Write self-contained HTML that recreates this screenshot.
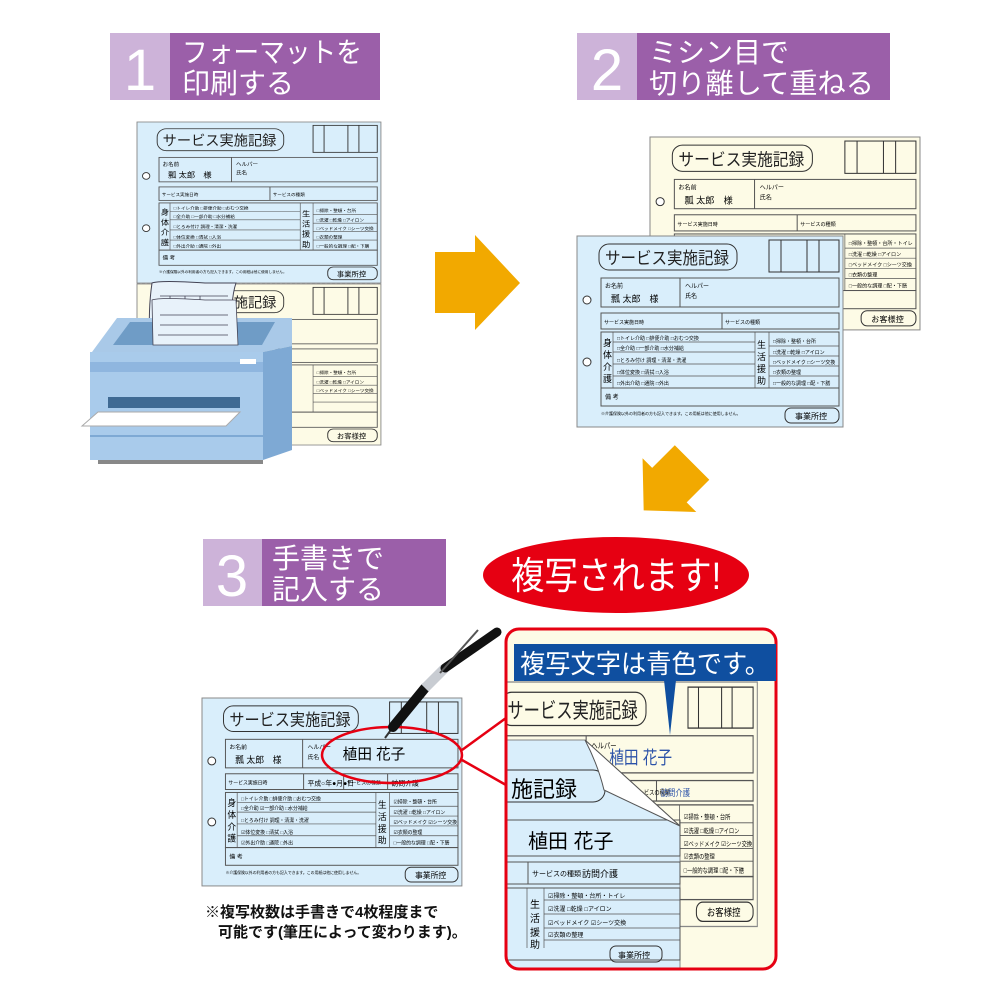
<!DOCTYPE html>
<html><head><meta charset="utf-8"><style>
html,body{margin:0;padding:0;background:#fff}
svg{display:block}
text{font-family:"Liberation Sans","Noto Sans CJK JP",sans-serif}
</style></head><body>
<svg width="1000" height="1000" viewBox="0 0 1000 1000" xmlns="http://www.w3.org/2000/svg">
<defs>
<clipPath id="zc"><rect x="506" y="629" width="270" height="340" rx="13"/></clipPath>
</defs>

<!-- Step labels -->
<rect x="110" y="33" width="60" height="67" fill="#cdb3d9"/>
<rect x="170" y="33" width="210" height="67" fill="#9b5fa9"/>
<text x="140" y="90" font-size="58" fill="#fff" text-anchor="middle">1</text>
<text x="182" y="62" font-size="28" fill="#fff" textLength="180" lengthAdjust="spacingAndGlyphs">フォーマットを</text>
<text x="182" y="93" font-size="28" fill="#fff">印刷する</text>

<rect x="577" y="33" width="60" height="67" fill="#cdb3d9"/>
<rect x="637" y="33" width="253" height="67" fill="#9b5fa9"/>
<text x="607" y="90" font-size="58" fill="#fff" text-anchor="middle">2</text>
<text x="649" y="62" font-size="28" fill="#fff">ミシン目で</text>
<text x="649" y="93" font-size="28" fill="#fff" textLength="225" lengthAdjust="spacingAndGlyphs">切り離して重ねる</text>

<rect x="203" y="539" width="59" height="67" fill="#cdb3d9"/>
<rect x="262" y="539" width="184" height="67" fill="#9b5fa9"/>
<text x="232" y="596" font-size="58" fill="#fff" text-anchor="middle">3</text>
<text x="272" y="568" font-size="28" fill="#fff">手書きで</text>
<text x="272" y="599" font-size="28" fill="#fff">記入する</text>

<!-- Arrows -->
<polygon points="435,252 475,252 475,235 520,283 475,330 475,313 435,313" fill="#f2a900"/>
<polygon transform="translate(668,486) rotate(135) scale(0.8)" points="-42,-31 -2,-31 -2,-48 43,0 -2,47 -2,30 -42,30" fill="#f2a900"/>

<!-- ===== Step1 form stack ===== -->
<g transform="translate(137,122) scale(0.917,0.843)">
<rect width="266" height="191" fill="#d9eefb" stroke="#888"/>
<rect x="22" y="8" width="138" height="26" rx="10" fill="none" stroke="#333"/>
<text x="28" y="28" font-size="17" fill="#222" textLength="124" lengthAdjust="spacingAndGlyphs">サービス実施記録</text>
<rect x="192" y="4" width="70" height="32" fill="none" stroke="#333"/>
<path d="M204 4V36M230 4V36M242 4V36" stroke="#333"/>
<circle cx="10" cy="64" r="4" fill="#fff" stroke="#333"/><circle cx="10" cy="126" r="4" fill="#fff" stroke="#333"/>
<rect x="24" y="42" width="238" height="29" fill="none" stroke="#555"/><path d="M103 42V71" stroke="#555"/>
<text x="28" y="52" font-size="6">お名前</text><text x="34" y="66" font-size="9">瓢 太郎　様</text>
<text x="108" y="52" font-size="6">ヘルパー</text><text x="108" y="62" font-size="6">氏名</text>
<rect x="24" y="77" width="238" height="16" fill="none" stroke="#555"/><path d="M145 77V93" stroke="#555"/>
<text x="27" y="88" font-size="5">サービス実施日時</text><text x="148" y="88" font-size="5">サービスの種類</text>
<rect x="24" y="96" width="238" height="56" fill="none" stroke="#555"/>
<path d="M36 96V152M178 96V152M192 96V152M36 106H178M36 116H178M36 128H178M36 140H178M192 110H262M192 120H262M192 130H262M192 140H262" stroke="#555" stroke-width=".7"/>
<text x="26" y="110" font-size="9">身</text><text x="26" y="122" font-size="9">体</text><text x="26" y="134" font-size="9">介</text><text x="26" y="146" font-size="9">護</text>
<text x="180" y="112" font-size="9">生</text><text x="180" y="124" font-size="9">活</text><text x="180" y="136" font-size="9">援</text><text x="180" y="148" font-size="9">助</text>
<text x="40" y="104" font-size="5">□トイレ介助 □排便介助 □おむつ交換</text>
<text x="40" y="114" font-size="5">□全介助 □一部介助 □水分補給</text>
<text x="40" y="126" font-size="5">□とろみ付け 調理・清潔・洗濯</text>
<text x="40" y="138" font-size="5">□体位変換 □清拭 □入浴</text>
<text x="40" y="149" font-size="5">□外出介助 □通院 □外出</text>
<text x="196" y="107" font-size="5">□掃除・整頓・台所</text>
<text x="196" y="118" font-size="5">□洗濯 □乾燥 □アイロン</text>
<text x="196" y="128" font-size="5">□ベッドメイク □シーツ交換</text>
<text x="196" y="138" font-size="5">□衣類の整理</text>
<text x="196" y="149" font-size="5">□一般的な調理 □配・下膳</text>
<rect x="24" y="152" width="238" height="18" fill="none" stroke="#555"/><text x="28" y="163" font-size="6">備 考</text>
<text x="24" y="179" font-size="4">※介護保険以外の利用者の方も記入できます。この用紙は他に使用しません。</text>
<rect x="208" y="172" width="54" height="15" rx="6" fill="none" stroke="#333"/><text x="218" y="183" font-size="8">事業所控</text>
</g>
<line x1="137" y1="284" x2="381" y2="284" stroke="#777" stroke-dasharray="3,2"/>
<g transform="translate(137,284) scale(0.917,0.843)">
<rect width="266" height="191" fill="#fdfbe6" stroke="#888"/>
<rect x="22" y="8" width="138" height="26" rx="10" fill="none" stroke="#333"/>
<text x="28" y="28" font-size="17" fill="#222" textLength="124" lengthAdjust="spacingAndGlyphs">サービス実施記録</text>
<rect x="192" y="4" width="70" height="32" fill="none" stroke="#333"/>
<path d="M204 4V36M230 4V36M242 4V36" stroke="#333"/>
<rect x="24" y="42" width="238" height="29" fill="none" stroke="#555"/>
<rect x="24" y="77" width="238" height="16" fill="none" stroke="#555"/>
<rect x="24" y="96" width="238" height="56" fill="none" stroke="#555"/>
<path d="M192 96V152M192 110H262M192 120H262M192 130H262M192 140H262" stroke="#555" stroke-width=".7"/>
<text x="196" y="107" font-size="5">□掃除・整頓・台所</text>
<text x="196" y="118" font-size="5">□洗濯 □乾燥 □アイロン</text>
<text x="196" y="128" font-size="5">□ベッドメイク □シーツ交換</text>
<rect x="24" y="152" width="238" height="18" fill="none" stroke="#555"/>
<rect x="208" y="172" width="54" height="15" rx="6" fill="none" stroke="#333"/><text x="218" y="183" font-size="8">お客様控</text>
</g>

<!-- Printer -->
<path d="M152 283 Q160 280 205 283 L236 283 Q230 300 232 342 L150 342 Q148 310 152 283Z" fill="#e8f2fa" stroke="#445"/>
<path d="M160 296H228M158 308H226M158 318H228M170 296V318M185 296V318M200 296V318" stroke="#445" stroke-width=".8"/>
<polygon points="92,352 117,318 292,318 292,346 263,352" fill="#a9c9e8"/>
<polygon points="113,345 130,322 275,322 262,345" fill="#6f9cc6"/>
<path d="M152 300 Q160 297 205 300 L236 300 L238 345 L153 345Z" fill="#e8f2fa" stroke="#445" stroke-width=".8"/>
<path d="M160 315H228M160 325H228M158 335H228" stroke="#445" stroke-width=".8"/>
<polygon points="263,352 292,346 292,450 263,460" fill="#7ea9d4"/>
<rect x="90" y="352" width="173" height="108" fill="#a9cbeb"/>
<rect x="90" y="362" width="173" height="10" fill="#8fb6df"/>
<rect x="240" y="359" width="16" height="5" fill="#fff"/>
<rect x="108" y="397" width="132" height="11" fill="#3f6a93"/>
<polygon points="82,426 98,412 240,412 226,426" fill="#fff" stroke="#aaa"/>
<line x1="90" y1="436" x2="263" y2="436" stroke="#7ea9d4" stroke-width="2"/>
<rect x="98" y="460" width="165" height="4" fill="#888"/>

<!-- ===== Step2 forms ===== -->
<g transform="translate(650,137) scale(1.015,1.01)">
<rect width="266" height="191" fill="#fdfbe6" stroke="#888"/>
<rect x="22" y="8" width="138" height="26" rx="10" fill="none" stroke="#333"/>
<text x="28" y="28" font-size="17" fill="#222" textLength="124" lengthAdjust="spacingAndGlyphs">サービス実施記録</text>
<rect x="192" y="4" width="70" height="32" fill="none" stroke="#333"/>
<path d="M204 4V36M230 4V36M242 4V36" stroke="#333"/>
<circle cx="10" cy="64" r="4" fill="#fff" stroke="#333"/>
<rect x="24" y="42" width="238" height="29" fill="none" stroke="#555"/><path d="M103 42V71" stroke="#555"/>
<text x="28" y="52" font-size="6">お名前</text><text x="34" y="66" font-size="9">瓢 太郎　様</text>
<text x="108" y="52" font-size="6">ヘルパー</text><text x="108" y="62" font-size="6">氏名</text>
<rect x="24" y="77" width="238" height="16" fill="none" stroke="#555"/><path d="M145 77V93" stroke="#555"/>
<text x="27" y="88" font-size="5">サービス実施日時</text><text x="148" y="88" font-size="5">サービスの種類</text>
<rect x="24" y="96" width="238" height="56" fill="none" stroke="#555"/>
<path d="M192 96V152M192 110H262M192 120H262M192 130H262M192 140H262" stroke="#555" stroke-width=".7"/>
<text x="196" y="107" font-size="5">□掃除・整頓・台所・トイレ</text>
<text x="196" y="118" font-size="5">□洗濯 □乾燥 □アイロン</text>
<text x="196" y="128" font-size="5">□ベッドメイク □シーツ交換</text>
<text x="196" y="138" font-size="5">□衣類の整理</text>
<text x="196" y="149" font-size="5">□一般的な調理 □配・下膳</text>
<rect x="24" y="152" width="238" height="18" fill="none" stroke="#555"/>
<rect x="208" y="172" width="54" height="15" rx="6" fill="none" stroke="#333"/><text x="218" y="183" font-size="8">お客様控</text>
</g>
<g transform="translate(577,236)">
<rect width="266" height="191" fill="#d9eefb" stroke="#888"/>
<rect x="22" y="8" width="138" height="26" rx="10" fill="none" stroke="#333"/>
<text x="28" y="28" font-size="17" fill="#222" textLength="124" lengthAdjust="spacingAndGlyphs">サービス実施記録</text>
<rect x="192" y="4" width="70" height="32" fill="none" stroke="#333"/>
<path d="M204 4V36M230 4V36M242 4V36" stroke="#333"/>
<circle cx="10" cy="64" r="4" fill="#fff" stroke="#333"/><circle cx="10" cy="126" r="4" fill="#fff" stroke="#333"/>
<rect x="24" y="42" width="238" height="29" fill="none" stroke="#555"/><path d="M103 42V71" stroke="#555"/>
<text x="28" y="52" font-size="6">お名前</text><text x="34" y="66" font-size="9">瓢 太郎　様</text>
<text x="108" y="52" font-size="6">ヘルパー</text><text x="108" y="62" font-size="6">氏名</text>
<rect x="24" y="77" width="238" height="16" fill="none" stroke="#555"/><path d="M145 77V93" stroke="#555"/>
<text x="27" y="88" font-size="5">サービス実施日時</text><text x="148" y="88" font-size="5">サービスの種類</text>
<rect x="24" y="96" width="238" height="56" fill="none" stroke="#555"/>
<path d="M36 96V152M178 96V152M192 96V152M36 106H178M36 116H178M36 128H178M36 140H178M192 110H262M192 120H262M192 130H262M192 140H262" stroke="#555" stroke-width=".7"/>
<text x="26" y="110" font-size="9">身</text><text x="26" y="122" font-size="9">体</text><text x="26" y="134" font-size="9">介</text><text x="26" y="146" font-size="9">護</text>
<text x="180" y="112" font-size="9">生</text><text x="180" y="124" font-size="9">活</text><text x="180" y="136" font-size="9">援</text><text x="180" y="148" font-size="9">助</text>
<text x="40" y="104" font-size="5">□トイレ介助 □排便介助 □おむつ交換</text>
<text x="40" y="114" font-size="5">□全介助 □一部介助 □水分補給</text>
<text x="40" y="126" font-size="5">□とろみ付け 調理・清潔・洗濯</text>
<text x="40" y="138" font-size="5">□体位変換 □清拭 □入浴</text>
<text x="40" y="149" font-size="5">□外出介助 □通院 □外出</text>
<text x="196" y="107" font-size="5">□掃除・整頓・台所</text>
<text x="196" y="118" font-size="5">□洗濯 □乾燥 □アイロン</text>
<text x="196" y="128" font-size="5">□ベッドメイク □シーツ交換</text>
<text x="196" y="138" font-size="5">□衣類の整理</text>
<text x="196" y="149" font-size="5">□一般的な調理 □配・下膳</text>
<rect x="24" y="152" width="238" height="18" fill="none" stroke="#555"/><text x="28" y="163" font-size="6">備 考</text>
<text x="24" y="179" font-size="4">※介護保険以外の利用者の方も記入できます。この用紙は他に使用しません。</text>
<rect x="208" y="172" width="54" height="15" rx="6" fill="none" stroke="#333"/><text x="218" y="183" font-size="8">事業所控</text>
</g>

<!-- Red bubble -->
<ellipse cx="616" cy="575" rx="133" ry="38" fill="#e60012"/>
<text x="616" y="589" font-size="38" fill="#fff" text-anchor="middle" textLength="210" lengthAdjust="spacingAndGlyphs">複写されます!</text>

<!-- ===== Step3 form ===== -->
<g transform="translate(202,698) scale(0.977,0.984)">
<rect width="266" height="191" fill="#d9eefb" stroke="#888"/>
<rect x="22" y="8" width="138" height="26" rx="10" fill="none" stroke="#333"/>
<text x="28" y="28" font-size="17" fill="#222" textLength="124" lengthAdjust="spacingAndGlyphs">サービス実施記録</text>
<rect x="192" y="4" width="70" height="32" fill="none" stroke="#333"/>
<path d="M204 4V36M230 4V36M242 4V36" stroke="#333"/>
<circle cx="10" cy="64" r="4" fill="#fff" stroke="#333"/><circle cx="10" cy="126" r="4" fill="#fff" stroke="#333"/>
<rect x="24" y="42" width="238" height="29" fill="none" stroke="#555"/><path d="M103 42V71" stroke="#555"/>
<text x="28" y="52" font-size="6">お名前</text><text x="34" y="66" font-size="9">瓢 太郎　様</text>
<text x="108" y="52" font-size="6">ヘルパー</text><text x="108" y="62" font-size="6">氏名</text>
<text x="144" y="62" font-size="15">植田 花子</text>
<rect x="24" y="77" width="238" height="16" fill="none" stroke="#555"/><path d="M145 77V93M104 77V93M190 77V93" stroke="#555"/>
<text x="27" y="88" font-size="5">サービス実施日時</text><text x="148" y="88" font-size="5">サービスの種類</text>
<text x="108" y="89" font-size="7">平成○年●月●日</text><text x="194" y="89" font-size="7">訪問介護</text>
<rect x="24" y="96" width="238" height="56" fill="none" stroke="#555"/>
<path d="M36 96V152M178 96V152M192 96V152M36 106H178M36 116H178M36 128H178M36 140H178M192 110H262M192 120H262M192 130H262M192 140H262" stroke="#555" stroke-width=".7"/>
<text x="26" y="110" font-size="9">身</text><text x="26" y="122" font-size="9">体</text><text x="26" y="134" font-size="9">介</text><text x="26" y="146" font-size="9">護</text>
<text x="180" y="112" font-size="9">生</text><text x="180" y="124" font-size="9">活</text><text x="180" y="136" font-size="9">援</text><text x="180" y="148" font-size="9">助</text>
<text x="40" y="104" font-size="5">□トイレ介助 □排便介助 □おむつ交換</text>
<text x="40" y="114" font-size="5">□全介助 ☑一部介助 □水分補給</text>
<text x="40" y="126" font-size="5">□とろみ付け 調理・清潔・洗濯</text>
<text x="40" y="138" font-size="5">☑体位変換 □清拭 □入浴</text>
<text x="40" y="149" font-size="5">☑外出介助 □通院 □外出</text>
<text x="196" y="107" font-size="5">☑掃除・整頓・台所</text>
<text x="196" y="118" font-size="5">☑洗濯 □乾燥 □アイロン</text>
<text x="196" y="128" font-size="5">☑ベッドメイク ☑シーツ交換</text>
<text x="196" y="138" font-size="5">☑衣類の整理</text>
<text x="196" y="149" font-size="5">□一般的な調理 □配・下膳</text>
<rect x="24" y="152" width="238" height="18" fill="none" stroke="#555"/><text x="28" y="163" font-size="6">備 考</text>
<text x="24" y="179" font-size="4">※介護保険以外の利用者の方も記入できます。この用紙は他に使用しません。</text>
<rect x="208" y="172" width="54" height="15" rx="6" fill="none" stroke="#333"/><text x="218" y="183" font-size="8">事業所控</text>
</g>
<text x="205" y="917" font-size="15" fill="#111" font-weight="bold">※複写枚数は手書きで4枚程度まで</text>
<text x="218" y="937" font-size="15" fill="#111" font-weight="bold">可能です(筆圧によって変わります)。</text>

<!-- Zoom box -->
<g clip-path="url(#zc)">
<rect x="506" y="629" width="270" height="340" fill="#fdfbe6"/>
<g transform="translate(478,682) scale(1.05,1.28)">
<rect width="266" height="191" fill="#fdfbe6" stroke="#888"/>
<rect x="22" y="8" width="138" height="26" rx="10" fill="none" stroke="#333"/>
<text x="28" y="28" font-size="17" fill="#222" textLength="124" lengthAdjust="spacingAndGlyphs">サービス実施記録</text>
<rect x="200" y="4" width="62" height="32" fill="none" stroke="#333"/>
<path d="M210 4V36M232 4V36M242 4V36" stroke="#333"/>
<rect x="24" y="42" width="238" height="29" fill="none" stroke="#555"/><path d="M103 42V71" stroke="#555"/>
<text x="28" y="52" font-size="6">お名前</text>
<text x="108" y="52" font-size="6">ヘルパー</text>
<text x="125" y="64" font-size="14" fill="#2b52a8">植田 花子</text>
<rect x="24" y="77" width="238" height="16" fill="none" stroke="#555"/><path d="M145 77V93M170 77V93" stroke="#555"/>
<text x="148" y="88" font-size="5">サービスの種類</text><text x="174" y="89" font-size="7" fill="#2b52a8">訪問介護</text>
<rect x="24" y="96" width="238" height="56" fill="none" stroke="#555"/>
<path d="M192 96V152M192 110H262M192 120H262M192 130H262M192 140H262" stroke="#555" stroke-width=".7"/>
<text x="196" y="107" font-size="5">☑掃除・整頓・台所</text>
<text x="196" y="118" font-size="5">☑洗濯 □乾燥 □アイロン</text>
<text x="196" y="128" font-size="5">☑ベッドメイク ☑シーツ交換</text>
<text x="196" y="138" font-size="5">☑衣類の整理</text>
<text x="196" y="149" font-size="5">□一般的な調理 □配・下膳</text>
<rect x="24" y="152" width="238" height="18" fill="none" stroke="#555"/>
<rect x="208" y="172" width="54" height="15" rx="6" fill="none" stroke="#333"/><text x="218" y="183" font-size="8">お客様控</text>
</g>
<!-- blue sheet with curl -->
<path d="M470 740 L585 740 L680 826 L680 970 L470 970Z" fill="#d9eefb" stroke="#888"/>
<rect x="470" y="770" width="135" height="32" rx="12" fill="none" stroke="#333"/>
<text x="511" y="797" font-size="22">施記録</text>
<text x="528" y="848" font-size="20">植田 花子</text>
<rect x="470" y="820" width="210" height="36" fill="none" stroke="#555"/>
<rect x="470" y="862" width="210" height="22" fill="none" stroke="#555"/>
<path d="M528 862V884" stroke="#555"/>
<text x="532" y="876" font-size="7">サービスの種類</text><text x="582" y="877" font-size="9">訪問介護</text>
<rect x="470" y="888" width="210" height="72" fill="none" stroke="#555"/>
<path d="M527 888V948M544 888V948M544 900H680M544 914H680M544 928H680M544 940H680" stroke="#555" stroke-width=".7"/>
<text x="530" y="908" font-size="10">生</text><text x="530" y="922" font-size="10">活</text><text x="530" y="936" font-size="10">援</text><text x="530" y="948" font-size="10">助</text>
<text x="548" y="898" font-size="6">☑掃除・整頓・台所・トイレ</text>
<text x="548" y="911" font-size="6">☑洗濯 □乾燥 □アイロン</text>
<text x="548" y="925" font-size="6">☑ベッドメイク ☑シーツ交換</text>
<text x="548" y="937" font-size="6">☑衣類の整理</text>
<rect x="610" y="946" width="52" height="16" rx="6" fill="none" stroke="#333"/><text x="618" y="958" font-size="8">事業所控</text>
<path d="M585 740 L680 826 L604 790 Q598 765 585 740Z" fill="#fff" stroke="#555"/>
</g>
<rect x="506" y="629" width="270" height="340" rx="13" fill="none" stroke="#e60012" stroke-width="3"/>
<rect x="514" y="644" width="262" height="37" fill="#0f4fa0"/>
<polygon points="664,680 676,680 670,735" fill="#0f4fa0"/>
<text x="520" y="673" font-size="26" fill="#fff" textLength="250" lengthAdjust="spacingAndGlyphs">複写文字は青色です。</text>

<!-- red ellipse + connectors -->
<ellipse cx="392" cy="755" rx="70" ry="28" fill="none" stroke="#e60012" stroke-width="2.5"/>
<path d="M462 750 L506 718 M462 760 L506 785" stroke="#e60012" stroke-width="2.5" fill="none"/>

<!-- Pen -->
<line x1="385" y1="738" x2="393" y2="727" stroke="#333" stroke-width="2"/>
<line x1="393" y1="727" x2="425" y2="688" stroke="#111" stroke-width="10" stroke-linecap="round"/>
<line x1="425" y1="688" x2="445" y2="668" stroke="#c8ccd2" stroke-width="10"/>
<line x1="445" y1="668" x2="497" y2="632" stroke="#111" stroke-width="9" stroke-linecap="round"/>
<line x1="440" y1="673" x2="478" y2="630" stroke="#555" stroke-width="2"/>
</svg>
</body></html>
